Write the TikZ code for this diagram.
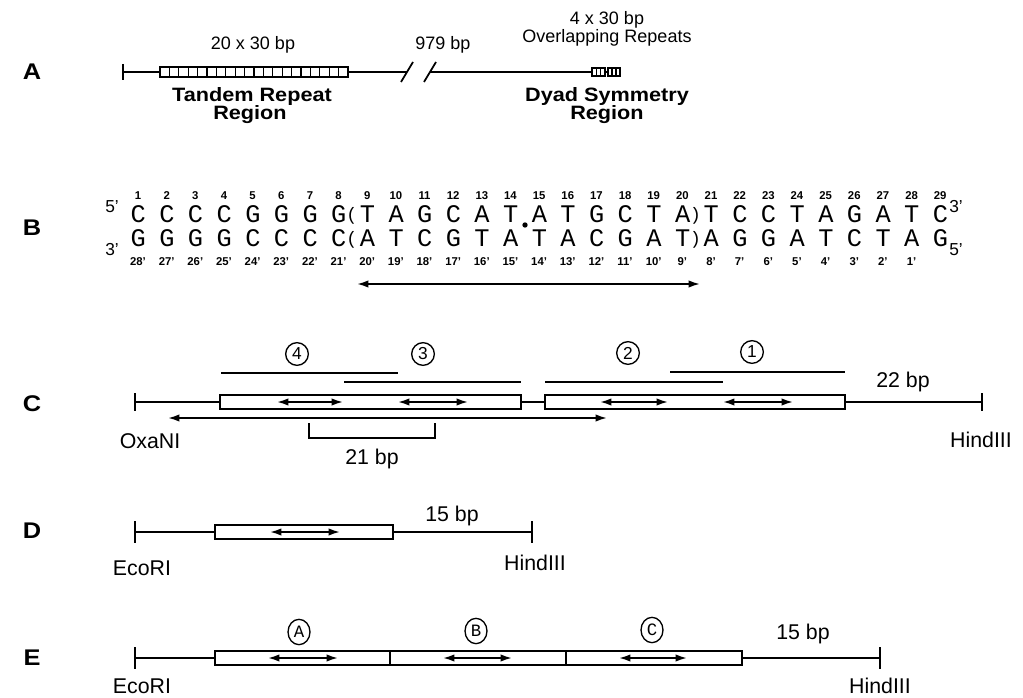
\documentclass[tikz,border=0pt]{standalone}
\usepackage{fontspec}
\setmainfont{Liberation Sans}
\newfontfamily\seqfont{Liberation Mono}
\newfontfamily\heavy[FakeStretch=1.12]{Liberation Sans Bold}
\usetikzlibrary{arrows.meta,fit,shapes.geometric}
\newcommand\sqlp{\raisebox{1.5pt}{\fontsize{13.5}{13.5}\selectfont(}}
\newcommand\sqrp{\raisebox{1.5pt}{\fontsize{13.5}{13.5}\selectfont)}}
\tikzset{
  ln/.style={line width=1.3pt},
  thinln/.style={line width=0.9pt},
  seg/.style={draw, line width=1.3pt, inner sep=0pt, fill=white},
  dbl/.style={line width=1.3pt, {Latex[length=8.5pt,width=5.5pt]}-{Latex[length=8.5pt,width=5.5pt]}},
  seclab/.style={font=\heavy\fontsize{17}{17}\selectfont, inner sep=0pt},
  atext/.style={font=\fontsize{13.5}{13.5}\selectfont, inner sep=0pt},
  abold/.style={font=\heavy\fontsize{14.5}{14.5}\selectfont, inner sep=0pt},
  lab/.style={font=\fontsize{16}{16}\selectfont, inner sep=0pt},
  seqch/.style={font=\seqfont\fontsize{19}{19}\selectfont, inner sep=0pt, anchor=base west},
  num/.style={font=\bfseries\fontsize{8.5}{8.5}\selectfont, inner sep=0pt, anchor=base},
  endlab/.style={font=\fontsize{13}{13}\selectfont, inner sep=0pt},
  circnum/.style={draw, circle, line width=1pt, inner sep=0pt, minimum size=17pt, font=\fontsize{13}{13}\selectfont},
  circlet/.style={draw, ellipse, line width=1pt, inner sep=0pt, minimum width=16.5pt, minimum height=19pt, font=\seqfont\fontsize{13}{13}\selectfont},
}
\begin{document}
\begin{tikzpicture}[x=0.75pt,y=-0.75pt]
\useasboundingbox (0,0) rectangle (1023,698);

% ---------- section labels
\node[seclab] (labA) at (32,72) {A};
\node[seclab] (labB) at (32,228) {B};
\node[seclab] (labC) at (32,404) {C};
\node[seclab] (labD) at (32,531) {D};
\node[seclab] (labE) at (32,658) {E};

% ---------- A
\coordinate (aT1) at (123,64); \coordinate (aT2) at (123,80);
\coordinate (aL) at (123,72);
\draw[ln] (aT1) -- (aT2);
\node[seg, fit={(160,67) (348,77)}] (tandem) {};
\foreach \k in {1,...,19} \draw[thinln] ({160+\k*9.4},67) -- ({160+\k*9.4},77);
\draw[ln] (aL) -- (tandem.west);
\coordinate (sl1) at (407,72); \coordinate (sl2) at (430,72);
\draw[ln] (tandem.east) -- (sl1);
\draw[ln] ([shift={(-6,10)}]sl1) -- ([shift={(6,-10)}]sl1);
\draw[ln] ([shift={(-6,10)}]sl2) -- ([shift={(6,-10)}]sl2);
\node[seg, fit={(592,68) (605,76)}] (dy1) {};
\node[seg, fit={(608,68) (620,76)}] (dy2) {};
\draw[ln] (sl2) -- (dy1.west);
\draw[ln] (dy1.east) -- (dy2.west);
\foreach \xx in {596.3,600.6,612,616} \draw[thinln] (\xx,68) -- (\xx,76);
\node[atext] (a20) at (253,45) {20 x 30 bp};
\node[atext] (a979) at (443,45) {979 bp};
\node[atext] (a4) at (607,20) {4 x 30 bp};
\node[atext] (aover) at (607,38) {Overlapping Repeats};
\node[abold] (atand) at (252,97) {Tandem Repeat};
\node[abold] (areg1) at (250,115) {Region};
\node[abold] (adyad) at (607,97) {Dyad Symmetry};
\node[abold] (areg2) at (607,115) {Region};

% ---------- B
\foreach \ch [count=\i] in {C,C,C,C,G,G,G,G\sqlp,T,A,G,C,A,T,A,T,G,C,T,A\sqrp,T,C,C,T,A,G,A,T,C} {
  \node[seqch] (t\i) at ({138+(\i-1)*28.65-7.6},223) {\ch};
  \node[num] (tn\i) at ({138+(\i-1)*28.65},200) {\i};
}
\foreach \ch [count=\i] in {G,G,G,G,C,C,C,C\sqlp,A,T,C,G,T,A,T,A,C,G,A,T\sqrp,A,G,G,A,T,C,T,A,G} {
  \node[seqch] (b\i) at ({138+(\i-1)*28.65-7.6},247) {\ch};
}
\foreach \i in {1,...,28} {
  \pgfmathtruncatemacro\j{29-\i}
  \node[num] (bn\i) at ({138+(\i-1)*28.65},266) {\j'};
}
\node[circle, fill, inner sep=0pt, minimum size=4pt] (dot) at (525,225) {};
\node[endlab] (f5) at (112,207) {5'};
\node[endlab] (f3) at (112,250) {3'};
\node[endlab] (e3) at (956,207) {3'};
\node[endlab] (e5) at (956,250) {5'};
\coordinate (bl) at (357,284); \coordinate (br) at (700,284);
\draw[dbl] (bl) -- (br);

% ---------- C
\coordinate (cT1) at (135,393); \coordinate (cT2) at (135,411); \coordinate (cL) at (135,402);
\coordinate (cR1) at (982,393); \coordinate (cR2) at (982,411); \coordinate (cR) at (982,402);
\draw[ln] (cT1) -- (cT2); \draw[ln] (cR1) -- (cR2);
\node[seg, fit={(220,395) (521,409)}] (cbox1) {};
\node[seg, fit={(545,395) (845,409)}] (cbox2) {};
\draw[ln] (cL) -- (cbox1.west);
\draw[ln] (cbox1.east) -- (cbox2.west);
\draw[ln] (cbox2.east) -- (cR);
\coordinate (ca1) at (277,402); \coordinate (ca2) at (343,402);
\coordinate (ca3) at (398,402); \coordinate (ca4) at (468,402);
\coordinate (ca5) at (600,402); \coordinate (ca6) at (668,402);
\coordinate (ca7) at (723,402); \coordinate (ca8) at (793,402);
\draw[dbl] (ca1) -- (ca2); \draw[dbl] (ca3) -- (ca4);
\draw[dbl] (ca5) -- (ca6); \draw[dbl] (ca7) -- (ca8);
\coordinate (o4a) at (221,373); \coordinate (o4b) at (398,373);
\coordinate (o3a) at (344,382); \coordinate (o3b) at (521,382);
\coordinate (o2a) at (545,382); \coordinate (o2b) at (723,382);
\coordinate (o1a) at (670,372); \coordinate (o1b) at (845,372);
\draw[ln] (o4a) -- (o4b); \draw[ln] (o3a) -- (o3b);
\draw[ln] (o2a) -- (o2b); \draw[ln] (o1a) -- (o1b);
\node[circnum] (n4) at (297,354) {4};
\node[circnum] (n3) at (423,354) {3};
\node[circnum] (n2) at (628,353) {2};
\node[circnum] (n1) at (752,352) {1};
\node[lab] (c22) at (903,382) {22 bp};
\coordinate (cla) at (168,418); \coordinate (clb) at (607,418);
\draw[dbl] (cla) -- (clb);
\coordinate (br1) at (309,423); \coordinate (br2) at (435,423);
\draw[ln] (br1) -- ++(0,15) -| (br2);
\node[lab] (c21) at (372,459) {21 bp};
\node[lab] (oxa) at (150,441) {OxaNI};
\node[lab] (chind) at (981,440) {HindIII};

% ---------- D
\coordinate (dT1) at (135,521); \coordinate (dT2) at (135,543); \coordinate (dL) at (135,532);
\coordinate (dR1) at (532,521); \coordinate (dR2) at (532,543); \coordinate (dR) at (532,532);
\draw[ln] (dT1) -- (dT2); \draw[ln] (dR1) -- (dR2);
\node[seg, fit={(215,525) (393,539)}] (dbox) {};
\draw[ln] (dL) -- (dbox.west);
\draw[ln] (dbox.east) -- (dR);
\coordinate (da1) at (270,532); \coordinate (da2) at (340,532);
\draw[dbl] (da1) -- (da2);
\node[lab] (d15) at (452,516) {15 bp};
\node[lab] (deco) at (142,568) {EcoRI};
\node[lab] (dhind) at (535,563) {HindIII};

% ---------- E
\coordinate (eT1) at (135,647); \coordinate (eT2) at (135,669); \coordinate (eL) at (135,658);
\coordinate (eR1) at (880,647); \coordinate (eR2) at (880,669); \coordinate (eR) at (880,658);
\draw[ln] (eT1) -- (eT2); \draw[ln] (eR1) -- (eR2);
\node[seg, fit={(215,651) (742,665)}] (ebox) {};
\draw[thinln] (390,651) -- (390,665);
\draw[thinln] (566,651) -- (566,665);
\draw[ln] (eL) -- (ebox.west);
\draw[ln] (ebox.east) -- (eR);
\coordinate (ea1) at (268,658); \coordinate (ea2) at (338,658);
\coordinate (ea3) at (443,658); \coordinate (ea4) at (512,658);
\coordinate (ea5) at (619,658); \coordinate (ea6) at (687,658);
\draw[dbl] (ea1) -- (ea2); \draw[dbl] (ea3) -- (ea4); \draw[dbl] (ea5) -- (ea6);
\node[circlet] (cA) at (299,632) {A};
\node[circlet] (cB) at (476,631) {B};
\node[circlet] (cC) at (652,630) {C};
\node[lab] (e15) at (803,634) {15 bp};
\node[lab] (eeco) at (142,686) {EcoRI};
\node[lab] (ehind) at (880,686) {HindIII};
\end{tikzpicture}
\end{document}
